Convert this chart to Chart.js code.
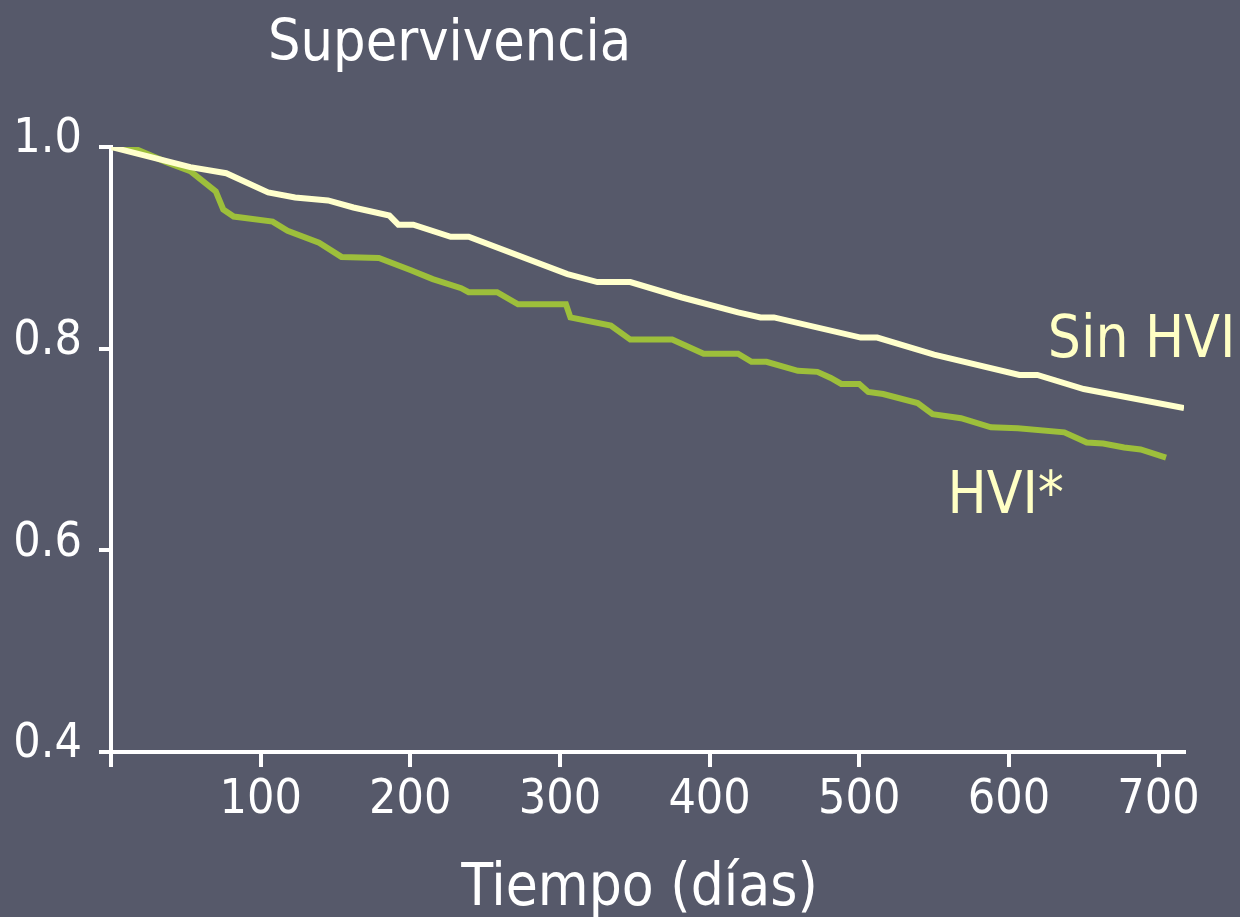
<!DOCTYPE html>
<html>
<head>
<meta charset="utf-8">
<script src="https://cdn.jsdelivr.net/npm/chart.js@4.4.1/dist/chart.umd.min.js"></script>
<style>
  html, body { margin: 0; padding: 0; background: #56596a; }
  #chart { display: block; }
</style>
</head>
<body>
<canvas id="chart" width="1240" height="917"></canvas>
<script>
// Kaplan-Meier survival (days, survival fraction)
const sinHviDias = [0, 53, 77, 105, 123, 145, 162, 186, 192, 202, 227, 239, 305, 325, 347, 381, 419, 434, 443, 501, 512, 550, 607, 619, 650, 717];
const sinHviSuperv = [1.0, 0.980, 0.974, 0.955, 0.950, 0.947, 0.940, 0.932, 0.923, 0.923, 0.911, 0.911, 0.874, 0.866, 0.866, 0.851, 0.836, 0.831, 0.831, 0.811, 0.811, 0.794, 0.774, 0.774, 0.760, 0.741];

const hviDias = [0, 18, 37, 53, 70, 75, 82, 108, 118, 139, 154, 179, 200, 215, 234, 239, 258, 272, 304, 307, 334, 347, 375, 396, 419, 428, 438, 459, 472, 481, 488, 500, 506, 516, 539, 549, 568, 588, 606, 637, 652, 663, 677, 688, 705];
const hviSuperv = [1.0, 0.997, 0.985, 0.976, 0.956, 0.938, 0.931, 0.926, 0.917, 0.905, 0.891, 0.890, 0.878, 0.869, 0.860, 0.856, 0.856, 0.844, 0.844, 0.831, 0.823, 0.809, 0.809, 0.795, 0.795, 0.787, 0.787, 0.778, 0.777, 0.771, 0.765, 0.765, 0.757, 0.755, 0.746, 0.735, 0.731, 0.722, 0.721, 0.717, 0.707, 0.706, 0.702, 0.700, 0.692];

const xTicks = [0, 100, 200, 300, 400, 500, 600, 700];
const yTicks = [0.4, 0.6, 0.8, 1.0];

const seriesNames = ["Sin HVI", "HVI*"];
const chartTitle = "Supervivencia";
const xTitle = "Tiempo (días)";

const FONT = "'DejaVu Sans Condensed', 'DejaVu Sans', sans-serif";
const BG = "#56596a";
const PALE = "#ffffc4";

function toPoints(xs, ys) {
  return xs.map((x, i) => ({ x: x, y: ys[i] }));
}

// background + the slide texts
const slideText = {
  id: "slideText",
  beforeDraw(chart) {
    const ctx = chart.ctx;
    ctx.save();
    ctx.fillStyle = BG;
    ctx.fillRect(0, 0, chart.width, chart.height);
    ctx.restore();
  },
  afterDraw(chart) {
    const ctx = chart.ctx;
    const area = chart.chartArea;
    ctx.save();
    ctx.textBaseline = "alphabetic";

    ctx.fillStyle = "#ffffff";
    ctx.textAlign = "left";
    ctx.font = "57px " + FONT;
    ctx.fillText(chartTitle, 268, 60);

    ctx.textAlign = "center";
    ctx.font = "58px " + FONT;
    ctx.fillText(xTitle, (area.left + area.right) / 2 - 8, 905);

    // series labels next to the curve ends
    const x = chart.scales.x, y = chart.scales.y;
    ctx.fillStyle = PALE;
    ctx.textAlign = "left";
    ctx.font = "58px " + FONT;
    ctx.fillText(seriesNames[0], x.getPixelForValue(626), y.getPixelForValue(0.792));
    ctx.fillText(seriesNames[1], x.getPixelForValue(559), y.getPixelForValue(0.637));
    ctx.restore();
  }
};

new Chart(document.getElementById("chart"), {
  type: "line",
  data: {
    datasets: [
      {
        label: seriesNames[0],
        data: toPoints(sinHviDias, sinHviSuperv),
        borderColor: "#ffffcc",
        borderWidth: 6,
        pointRadius: 0,
        tension: 0,
        fill: false
      },
      {
        label: seriesNames[1],
        data: toPoints(hviDias, hviSuperv),
        borderColor: "#9dbf3b",
        borderWidth: 6,
        pointRadius: 0,
        tension: 0,
        fill: false
      }
    ]
  },
  options: {
    responsive: false,
    animation: false,
    devicePixelRatio: 1,
    layout: { padding: { top: 147, right: 56, left: 0, bottom: 0 } },
    plugins: {
      legend: { display: false },
      tooltip: { enabled: false }
    },
    scales: {
      x: {
        type: "linear",
        min: 0,
        max: 717,
        afterBuildTicks: (scale) => { scale.ticks = xTicks.map(v => ({ value: v })); },
        afterFit: (scale) => { scale.height = 917 - 752; },
        border: { display: true, color: "#ffffff", width: 4 },
        grid: { drawOnChartArea: false, drawTicks: true, tickLength: 15, color: "#ffffff", lineWidth: 4 },
        ticks: {
          color: "#ffffff",
          font: { family: FONT, size: 48, lineHeight: 1 },
          padding: 10,
          maxRotation: 0,
          autoSkip: false,
          callback: (v) => (v === 0 ? "" : String(v))
        }
      },
      y: {
        min: 0.4,
        max: 1.0,
        afterBuildTicks: (scale) => { scale.ticks = yTicks.map(v => ({ value: v })); },
        afterFit: (scale) => { scale.width = 111; },
        border: { display: true, color: "#ffffff", width: 4 },
        grid: { drawOnChartArea: false, drawTicks: true, tickLength: 12, color: "#ffffff", lineWidth: 4 },
        ticks: {
          color: "#ffffff",
          font: { family: FONT, size: 48, lineHeight: 1 },
          padding: 17,
          labelOffset: -7,
          autoSkip: false,
          callback: (v) => Number(v).toFixed(1)
        }
      }
    }
  },
  plugins: [slideText]
});
</script>
</body>
</html>
